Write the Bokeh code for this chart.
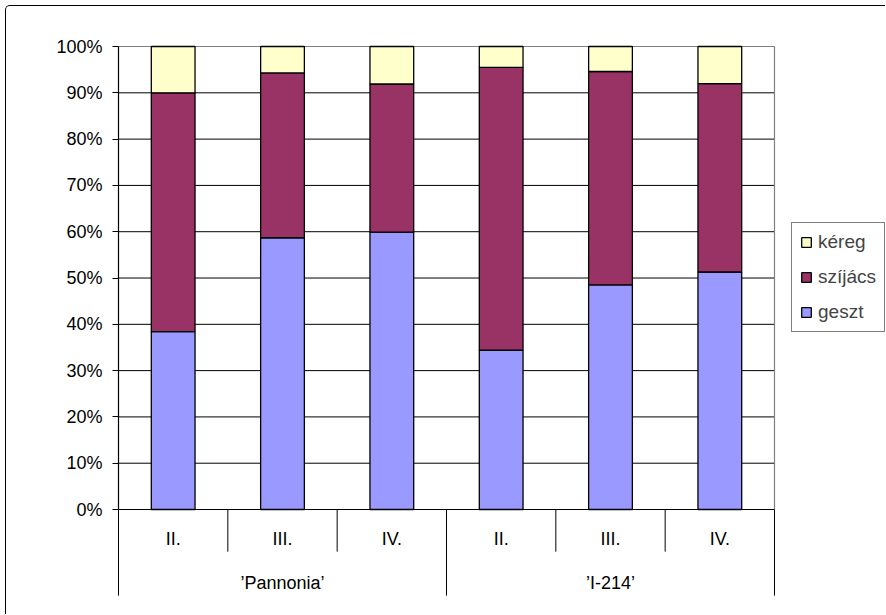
import numpy as np
from bokeh.plotting import figure
from bokeh.models import (ColumnDataSource, FixedTicker, Range1d, Legend,
                          LegendItem)
from bokeh.core.properties import value
from bokeh.embed import file_html
from bokeh.resources import INLINE

# Clone groups and the sampling positions within each
groups = ["\u2019Pannonia\u2019", "\u2019I-214\u2019"]
stages = ["II.", "III.", "IV."]

# Share of each wood layer (%) for every clone / position
geszt = [38.4, 58.7, 59.9, 34.4, 48.5, 51.3]
szijacs = [51.6, 35.6, 32.0, 61.1, 46.1, 40.7]
kereg = [10.0, 5.7, 8.1, 4.5, 5.4, 8.0]

layer_names = ["geszt", "szíjács", "kéreg"]
layer_colors = ["#9999FF", "#993366", "#FFFFCC"]

pct_ticks = list(range(0, 101, 10))
pct_labels = [f"{t}%" for t in pct_ticks]

FONT = "Liberation Sans"
n_st = len(stages)
n = len(groups) * n_st
xpos = np.arange(n) + 0.5

UNIT = 109.33           # px per category
PAD_X = 6 / UNIT
p = figure(width=880, height=609, output_backend="svg", toolbar_location=None,
           x_range=Range1d(-PAD_X, n + 112 / UNIT), y_range=Range1d(-20.3, 101.3),
           x_axis_location=None,
           min_border_left=106, min_border_right=0,
           min_border_top=34, min_border_bottom=12)
p.outline_line_color = None
p.xgrid.visible = False
p.ygrid.visible = False
p.background_fill_color = "white"
p.border_fill_color = "white"
# chart-area border (top and left edges of the chart box)
p.styles = {"margin-left": "5px", "margin-top": "5px",
            "border-left": "1px solid black", "border-top": "1px solid black",
            "border-top-left-radius": "5px"}

# percentage axis
ax = p.yaxis[0]
ax.ticker = FixedTicker(ticks=pct_ticks)
ax.major_label_overrides = {t: lab for t, lab in zip(pct_ticks, pct_labels)}
ax.axis_line_color = None
ax.major_tick_in = 6
ax.major_tick_out = 0
ax.minor_tick_line_color = None
ax.major_tick_line_color = "black"
ax.major_label_standoff = 10
ax.major_label_text_font = FONT
ax.major_label_text_font_size = "18px"
ax.major_label_text_color = "black"

# horizontal gridlines
inner = pct_ticks[1:-1]
p.segment(x0=[0] * len(inner), x1=[n] * len(inner), y0=inner, y1=inner,
          line_color="black", line_width=1)
# plot area frame: grey top / right, black axis lines
p.segment(x0=[0, n], x1=[n, n], y0=[100, 0], y1=[100, 100],
          line_color="#808080", line_width=1.2)
p.segment(x0=[0, 0], x1=[0, n], y0=[0, 0], y1=[100, 0],
          line_color="black", line_width=1.2)

# stacked bars
src = ColumnDataSource(dict(x=xpos, geszt=geszt, szijacs=szijacs, kereg=kereg))
bars = p.vbar_stack(["geszt", "szijacs", "kereg"], x="x", width=0.4,
                    fill_color=layer_colors, line_color="black", line_width=1.3,
                    source=src)

# two-level category axis drawn below the baseline
short = [i for i in range(1, n) if i % n_st != 0]
long_ = list(range(0, n + 1, n_st))
p.segment(x0=short, x1=short, y0=[0] * len(short), y1=[-9.1] * len(short),
          line_color="black", line_width=1)
p.segment(x0=long_, x1=long_, y0=[0] * len(long_), y1=[-18.6] * len(long_),
          line_color="black", line_width=1)
p.text(x=xpos, y=[-6.4] * n, text=stages * len(groups),
       text_font=value(FONT), text_font_size="18px", text_color="black",
       text_align="center", text_baseline="middle")
p.text(x=[g * n_st + n_st / 2 for g in range(len(groups))],
       y=[-15.8] * len(groups), text=groups,
       text_font=value(FONT), text_font_size="18px", text_color="black",
       text_align="center", text_baseline="middle")

legend = Legend(
    items=[LegendItem(label=layer_names[i], renderers=[bars[i]]) for i in (2, 1, 0)],
    location=(679, 271), border_line_color="black", border_line_width=1,
    background_fill_color="white", background_fill_alpha=1.0,
    label_text_font=FONT, label_text_font_size="19px",
    glyph_width=12, glyph_height=12, label_height=20, spacing=13,
    padding=8, margin=0, label_standoff=6)
p.add_layout(legend)

open("out.html", "w").write(file_html(p, INLINE))
